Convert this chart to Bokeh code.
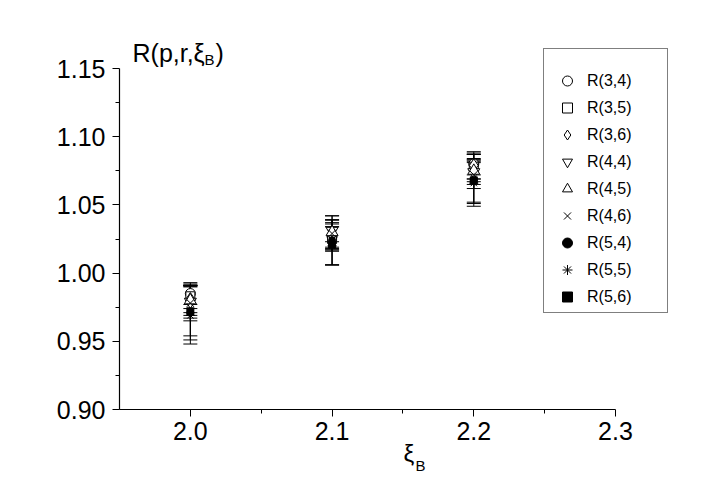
from bokeh.plotting import figure
from bokeh.models import (Range1d, FixedTicker, PrintfTickFormatter, Whisker, TeeHead,
                          ColumnDataSource, Legend, LegendItem, Label)
from bokeh.embed import file_html
from bokeh.resources import INLINE

# ---------------- data ----------------
xi_B = [2.0, 2.1, 2.2]
series_names = ["R(3,4)", "R(3,5)", "R(3,6)", "R(4,4)", "R(4,5)", "R(4,6)", "R(5,4)", "R(5,5)", "R(5,6)"]

R34 = [0.985, 1.027, 1.080]
R34_err = [0.008, 0.010, 0.008]
R35 = [0.983, 1.025, 1.078]
R35_err = [0.009, 0.009, 0.009]
R36 = [0.981, 1.028, 1.079]
R36_err = [0.010, 0.011, 0.010]
R44 = [0.979, 1.031, 1.074]
R44_err = [0.012, 0.008, 0.009]
R45 = [0.980, 1.030, 1.075]
R45_err = [0.011, 0.012, 0.008]
R46 = [0.978, 1.029, 1.072]
R46_err = [0.013, 0.010, 0.010]
R54 = [0.971, 1.024, 1.068]
R54_err = [0.020, 0.018, 0.016]
R55 = [0.969, 1.020, 1.066]
R55_err = [0.021, 0.014, 0.015]
R56 = [0.972, 1.021, 1.068]
R56_err = [0.018, 0.015, 0.019]

values = [R34, R35, R36, R44, R45, R46, R54, R55, R56]
errors = [R34_err, R35_err, R36_err, R44_err, R45_err, R46_err, R54_err, R55_err, R56_err]

x_axis_range = (1.95, 2.3)
y_axis_range = (0.90, 1.15)
x_ticks = [2.0, 2.1, 2.2, 2.3]
x_minor = [2.05, 2.15, 2.25]
y_ticks = [0.90, 0.95, 1.00, 1.05, 1.10, 1.15]
y_minor = [0.925, 0.975, 1.025, 1.075, 1.125]

# ---------------- layout (pixels) ----------------
W, H = 709, 490
AX_LEFT, AX_RIGHT, AX_TOP, AX_BOTTOM = 119, 615, 68, 409
sx = (AX_RIGHT - AX_LEFT) / (x_axis_range[1] - x_axis_range[0])
sy = (AX_BOTTOM - AX_TOP) / (y_axis_range[1] - y_axis_range[0])
x_range = Range1d(x_axis_range[0] - AX_LEFT / sx, x_axis_range[1] + (W - AX_RIGHT) / sx)
y_range = Range1d(y_axis_range[0] - (H - AX_BOTTOM) / sy, y_axis_range[1] + AX_TOP / sy)

# ---------------- styles ----------------
marker_styles = [
    dict(marker="circle", size=10, fill_color="white"),
    dict(marker="square", size=9, fill_color="white"),
    dict(marker="diamond", size=13, fill_color="white"),
    dict(marker="inverted_triangle", size=12, fill_color="white"),
    dict(marker="triangle", size=12, fill_color="white"),
    dict(marker="x", size=11, fill_color="white"),
    dict(marker="circle", size=7, fill_color="black"),
    dict(marker="asterisk", size=9, fill_color="black"),
    dict(marker="square", size=7, fill_color="black"),
]

FONT = "Liberation Sans"

p = figure(width=W, height=H, output_backend="svg", toolbar_location=None,
           x_range=x_range, y_range=y_range,
           min_border_left=0, min_border_right=0, min_border_top=0, min_border_bottom=0)
p.title = None
p.outline_line_color = None
p.grid.visible = False
p.background_fill_color = "white"
p.border_fill_color = "white"

for ax, ticks, minor, fmt, standoff, loc, bnds in [
        (p.xaxis[0], x_ticks, x_minor, "%.1f", 5, y_axis_range[0], x_axis_range),
        (p.yaxis[0], y_ticks, y_minor, "%.2f", 7, x_axis_range[0], y_axis_range)]:
    ax.fixed_location = loc
    ax.bounds = bnds
    ax.ticker = FixedTicker(ticks=ticks, minor_ticks=minor)
    ax.formatter = PrintfTickFormatter(format=fmt)
    ax.major_label_text_font = FONT
    ax.major_label_text_font_size = "25px"
    ax.major_label_text_color = "black"
    ax.major_label_standoff = standoff
    ax.axis_line_color = "black"
    ax.axis_line_width = 1.2
    ax.major_tick_line_color = "black"
    ax.minor_tick_line_color = "black"
    ax.major_tick_in = 0
    ax.major_tick_out = 7
    ax.minor_tick_in = 0
    ax.minor_tick_out = 4

items = []
for name, vals, errs, st in zip(series_names, values, errors, marker_styles):
    src = ColumnDataSource(dict(x=xi_B, y=vals,
                                upper=[v + e for v, e in zip(vals, errs)],
                                lower=[v - e for v, e in zip(vals, errs)]))
    w = Whisker(base="x", upper="upper", lower="lower", source=src,
                line_color="black", line_width=1,
                upper_head=TeeHead(size=14, line_color="black", line_width=1),
                lower_head=TeeHead(size=14, line_color="black", line_width=1))
    p.add_layout(w)
    r = p.scatter("x", "y", source=src, marker=st["marker"], size=st["size"],
                  fill_color=st["fill_color"], line_color="black", line_width=1)
    items.append(LegendItem(label=name, renderers=[r]))

legend = Legend(items=items, location=(543, H - 313),
                title="\u00a0", title_text_font_size="12px", title_standoff=2,
                label_text_font=FONT, label_text_font_size="16px", label_text_color="black",
                glyph_width=40, glyph_height=25, label_height=25, label_width=77,
                label_standoff=0, spacing=2, padding=3, margin=0,
                border_line_color="black", border_line_width=1,
                background_fill_color="white", background_fill_alpha=1.0)
p.add_layout(legend, "center")

def add_text(x, y_top, text, size):
    p.add_layout(Label(x=x, y=H - y_top, x_units="screen", y_units="screen", text=text,
                       text_font=FONT, text_font_size=size, text_color="black",
                       text_baseline="alphabetic"))

# title: R(p,r,ξ_B)
add_text(132, 52, "R(p,r,ξ", "25px")
add_text(204, 59, "B", "15px")
add_text(215, 52, ")", "25px")

# x-axis label: ξ_B
add_text(403, 453, "ξ", "24px")
add_text(415, 465, "B", "15px")

open("out.html", "w").write(file_html(p, INLINE))
